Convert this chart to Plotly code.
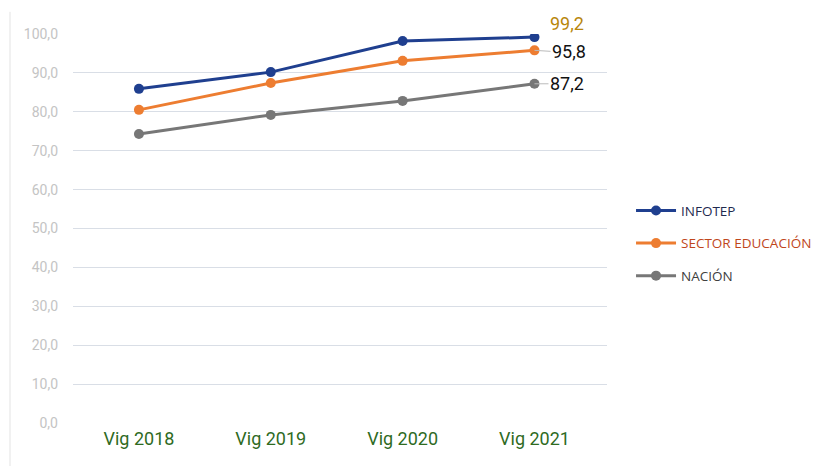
import plotly.graph_objects as go

categories = ["Vig 2018", "Vig 2019", "Vig 2020", "Vig 2021"]
infotep = [85.9, 90.2, 98.2, 99.2]
sector = [80.5, 87.4, 93.1, 95.8]
nacion = [74.3, 79.2, 82.8, 87.2]
tick_vals = [0, 10, 20, 30, 40, 50, 60, 70, 80, 90, 100]

series = [
    ("INFOTEP", infotep, "#1F3F8F", "#1F2A4F"),
    ("SECTOR EDUCACIÓN", sector, "#ED7D31", "#C0461B"),
    ("NACIÓN", nacion, "#777777", "#404040"),
]

fig = go.Figure()
for i, (name, vals, col, tcol) in enumerate(series):
    fig.add_trace(go.Scatter(
        x=categories, y=vals, mode="lines+markers",
        name=f"<span style='color:{tcol}'>{name}</span>",
        legendgroup=f"g{i}",
        line=dict(color=col, width=3),
        marker=dict(color=col, size=10),
    ))

font_c = "Liberation Sans Narrow, Roboto, sans-serif"
fig.add_annotation(x=categories[-1], y=infotep[-1], text="99,2", showarrow=False,
                   xshift=33, yshift=14, font=dict(family=font_c, size=18, color="#B8860B"))
fig.add_annotation(x=categories[-1], y=sector[-1], text="95,8", showarrow=True,
                   arrowhead=0, arrowwidth=1, arrowcolor="#BBBBBB", ax=16, ay=1,
                   font=dict(family=font_c, size=18, color="#111111"), xanchor="left")
fig.add_annotation(x=categories[-1], y=nacion[-1], text="87,2", showarrow=True,
                   arrowhead=0, arrowwidth=1, arrowcolor="#BBBBBB", ax=14, ay=0,
                   font=dict(family=font_c, size=18, color="#111111"), xanchor="left")

fig.update_layout(
    width=828, height=466,
    margin=dict(l=65, r=229, t=26, b=51),
    paper_bgcolor="white", plot_bgcolor="white",
    separators=",.",
    showlegend=True,
    legend=dict(x=1.045, y=0.462, xanchor="left", yanchor="middle",
                font=dict(family="Open Sans, sans-serif", size=13.5),
                traceorder="grouped", tracegroupgap=12, itemwidth=40),
    xaxis=dict(
        type="category", showgrid=False, zeroline=False, showline=False,
        tickfont=dict(family=font_c, size=18, color="#2F6B1F"),
        ticks="", range=[-0.5, 3.55], ticklabelstandoff=3,
    ),
    yaxis=dict(
        range=[0, 100], tickvals=tick_vals, tickformat=".1f",
        showgrid=True, gridcolor="#D9DEE6", gridwidth=1,
        zeroline=False, showline=False,
        tickfont=dict(family=font_c, size=14, color="#C4C4C4"),
        ticks="", ticklen=0, automargin=False, ticklabelstandoff=14,
    ),
    shapes=[dict(type="line", xref="paper", yref="paper", x0=-0.118, x1=-0.118,
                 y0=-0.12, y1=1.057, line=dict(color="#E3E3E3", width=1))],
)

fig.write_html("out.html")
